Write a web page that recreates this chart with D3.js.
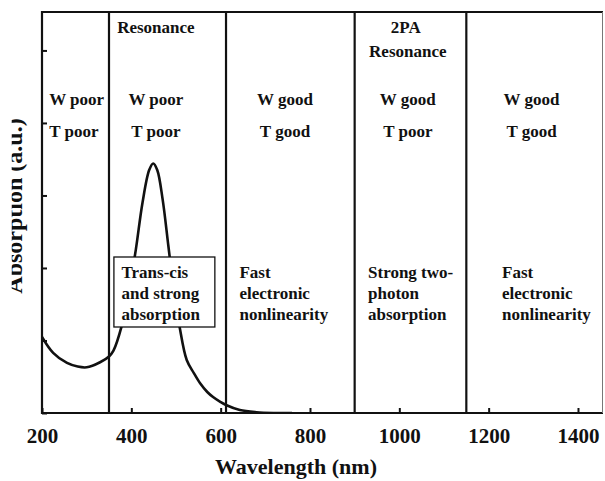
<!DOCTYPE html>
<html>
<head>
<meta charset="utf-8">
<script src="https://cdn.jsdelivr.net/npm/d3@7"></script>
<style>
  body { margin: 0; background: #fff; }
  svg text { font-family: "Liberation Serif", "Times New Roman", serif; font-weight: bold; fill: #111; }
</style>
</head>
<body>
<svg id="chart" width="605" height="481"></svg>
<script>
// absorption spectrum (wavelength nm / arbitrary units)
const wavelengths = [200, 225, 256, 280, 300, 330, 350, 360, 378, 395, 410, 425, 440, 449, 458, 470, 483, 495, 508, 524, 540, 554, 570, 583, 600, 612, 643, 680, 720, 760];
const absorption  = [1.05, 0.83, 0.69, 0.64, 0.63, 0.70, 0.78, 0.86, 1.19, 1.70, 2.25, 2.90, 3.35, 3.44, 3.35, 2.95, 2.30, 1.70, 1.19, 0.73, 0.55, 0.41, 0.29, 0.22, 0.15, 0.11, 0.04, 0.01, 0.0, 0.0];

const xTicks = [200, 400, 600, 800, 1000, 1200, 1400];
const yTicks = [0, 1, 2, 3, 4, 5];

// region borders (nm)
const borders = [350, 612, 900, 1150];

// region headings
const headTop = ["", "Resonance", "", "2PA", ""];
const headSub = ["", "", "", "Resonance", ""];
const wLabels = ["W poor", "W poor", "W good", "W good", "W good"];
const tLabels = ["T poor", "T poor", "T good", "T poor", "T good"];
const notes = [
    [],
    ["Trans-cis", "and strong", "absorption"],
    ["Fast", "electronic", "nonlinearity"],
    ["Strong two-", "photon", "absorption"],
    ["Fast", "electronic", "nonlinearity"]
];

const margin = { top: 12, right: 2, bottom: 68, left: 42 };
const width = 605, height = 481;

const x = d3.scaleLinear().domain([200, 1456]).range([margin.left, width - margin.right]);
const y = d3.scaleLinear().domain([0, 5.53]).range([height - margin.bottom, margin.top]);

const svg = d3.select("#chart");

svg.append("clipPath").attr("id", "plot")
    .append("rect")
    .attr("x", x.range()[0]).attr("y", y.range()[1])
    .attr("width", x.range()[1] - x.range()[0])
    .attr("height", y.range()[0] - y.range()[1]);

// the curve
const line = d3.line()
    .x((d, i) => x(wavelengths[i]))
    .y(d => y(d))
    .curve(d3.curveCatmullRom.alpha(0.5));

svg.append("path")
    .datum(absorption)
    .attr("clip-path", "url(#plot)")
    .attr("fill", "none")
    .attr("stroke", "#111")
    .attr("stroke-width", 2.6)
    .attr("d", line);

// region borders
svg.selectAll("line.border")
    .data(borders)
    .enter().append("line")
    .attr("class", "border")
    .attr("x1", d => x(d)).attr("x2", d => x(d))
    .attr("y1", y.range()[1]).attr("y2", y.range()[0])
    .attr("stroke", "#111")
    .attr("stroke-width", 2.2);

// axes, ticks pointing inwards
const xAxis = svg.append("g")
    .attr("transform", `translate(0,${y.range()[0]})`)
    .call(d3.axisBottom(x).tickValues(xTicks).tickFormat(d3.format("d"))
        .tickSizeInner(-5).tickSizeOuter(0).tickPadding(15));
xAxis.select(".domain").remove();
xAxis.selectAll("line").attr("stroke", "#111").attr("stroke-width", 2);
xAxis.selectAll("text").style("font-size", "21px");

const yAxis = svg.append("g")
    .attr("transform", `translate(${x.range()[0]},0)`)
    .call(d3.axisLeft(y).tickValues(yTicks).tickSizeInner(-5).tickSizeOuter(0).tickFormat(""));
yAxis.select(".domain").remove();
yAxis.selectAll("line").attr("stroke", "#111").attr("stroke-width", 2);

// frame
const [x0, x1] = x.range(), [yb, yt] = y.range();
svg.append("path")
    .attr("d", `M${x1},${yt}H${x0}V${yb}H${x1}`)
    .attr("fill", "none").attr("stroke", "#111").attr("stroke-width", 2.2);
svg.append("line")
    .attr("x1", x1 - 0.5).attr("x2", x1 - 0.5).attr("y1", yt).attr("y2", yb)
    .attr("stroke", "#777").attr("stroke-width", 1);

// labels for each region
const colCenter = [216, 455, 744, 1019, 1296];   // nm
const noteLeft  = [0, 378, 642, 930, 1230];       // nm

const g = svg.append("g").style("font-size", "17px");

headTop.forEach((t, i) => {
    if (!t) return;
    g.append("text").attr("x", x(colCenter[i]) + (i === 3 ? -2 : 0)).attr("y", 33)
        .attr("text-anchor", "middle").text(t);
});
headSub.forEach((t, i) => {
    if (!t) return;
    g.append("text").attr("x", x(colCenter[i])).attr("y", 57)
        .attr("text-anchor", "middle").text(t);
});
wLabels.forEach((t, i) => {
    g.append("text").attr("x", x(colCenter[i])).attr("y", 105)
        .attr("text-anchor", i === 0 ? "start" : "middle").text(t);
});
tLabels.forEach((t, i) => {
    g.append("text").attr("x", x(colCenter[i])).attr("y", 137)
        .attr("text-anchor", i === 0 ? "start" : "middle").text(t);
});

// box round the resonance note, covers the curve
svg.append("rect")
    .attr("x", x(361)).attr("y", 257)
    .attr("width", x(587) - x(361)).attr("height", 70)
    .attr("fill", "#fff").attr("stroke", "#111").attr("stroke-width", 1.3);

notes.forEach((lines, i) => {
    lines.forEach((t, j) => {
        svg.append("text")
            .style("font-size", "17px")
            .attr("x", x(noteLeft[i])).attr("y", 278 + j * 21)
            .text(t);
    });
});

// axis titles
svg.append("text")
    .attr("x", 296).attr("y", 474)
    .attr("text-anchor", "middle")
    .style("font-size", "22px")
    .text("Wavelength (nm)");

// y title is cut at the left edge in the original
svg.append("clipPath").attr("id", "cut")
    .append("rect").attr("x", 11.7).attr("y", 0).attr("width", 40).attr("height", height);
svg.append("g")
    .attr("clip-path", "url(#cut)")
    .append("text")
    .attr("transform", "translate(22,206) rotate(-90)")
    .attr("text-anchor", "middle")
    .style("font-size", "24px")
    .text("Absorption (a.u.)");
</script>
</body>
</html>
